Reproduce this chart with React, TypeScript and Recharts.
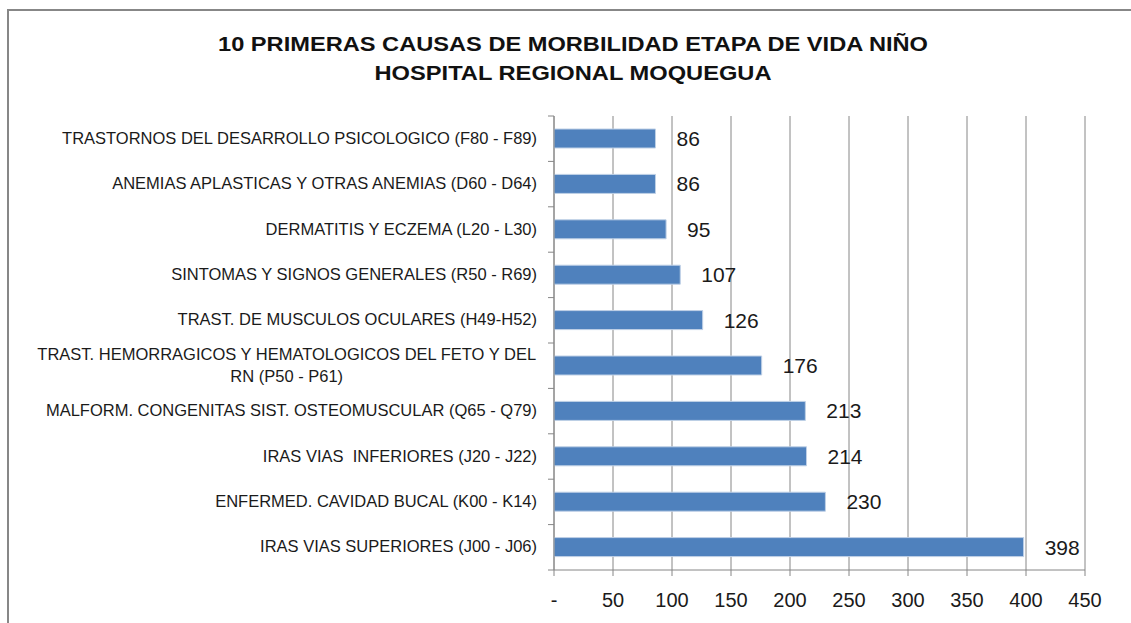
import React from "react";
import { BarChart, Bar, XAxis, YAxis, CartesianGrid, LabelList } from "recharts";

const categories = [
  "TRASTORNOS DEL DESARROLLO PSICOLOGICO (F80 - F89)",
  "ANEMIAS APLASTICAS Y OTRAS ANEMIAS (D60 - D64)",
  "DERMATITIS Y ECZEMA (L20 - L30)",
  "SINTOMAS Y SIGNOS GENERALES (R50 - R69)",
  "TRAST. DE MUSCULOS OCULARES (H49-H52)",
  "TRAST. HEMORRAGICOS Y HEMATOLOGICOS DEL FETO Y DEL RN (P50 - P61)",
  "MALFORM. CONGENITAS SIST. OSTEOMUSCULAR (Q65 - Q79)",
  "IRAS VIAS  INFERIORES (J20 - J22)",
  "ENFERMED. CAVIDAD BUCAL (K00 - K14)",
  "IRAS VIAS SUPERIORES (J00 - J06)",
];
const values = [86, 86, 95, 107, 126, 176, 213, 214, 230, 398];
const xTicks = [0, 50, 100, 150, 200, 250, 300, 350, 400, 450];
const titleLines = [
  "10 PRIMERAS CAUSAS DE MORBILIDAD ETAPA DE VIDA NIÑO",
  "HOSPITAL REGIONAL MOQUEGUA",
];

const data = categories.map((name, i) => ({ name, value: values[i] }));

const FONT = "'Liberation Sans', Arial, sans-serif";
const AXIS = "#868686";

function wrapLabel(text: string): string[] {
  if (text.length <= 55) return [text];
  const words = text.split(" ");
  const lines: string[] = [];
  let cur = "";
  for (const w of words) {
    const next = cur ? cur + " " + w : w;
    if (next.length > 50 && cur) {
      lines.push(cur);
      cur = w;
    } else cur = next;
  }
  if (cur) lines.push(cur);
  return lines;
}

let measureCtx: CanvasRenderingContext2D | null = null;
function measure(text: string, font: string): number {
  if (!measureCtx) {
    const c = document.createElement("canvas");
    measureCtx = c.getContext("2d");
  }
  if (!measureCtx) return text.length * 9;
  measureCtx.font = font;
  return measureCtx.measureText(text).width;
}

const YTick = (props: any) => {
  const { x, y, payload, index, visibleTicksCount } = props;
  const half = payload && payload.offset ? payload.offset : 22.7;
  const axisX = x + 8;
  const lines = wrapLabel(String(payload.value));
  const right = axisX - 17;
  const fs = 16.5;
  const lh = 22;
  const startY = y - ((lines.length - 1) * lh) / 2 + 5;
  let anchor: "end" | "middle" = "end";
  let tx = right;
  if (lines.length > 1) {
    const w = measure(lines[0], `${fs}px ${FONT}`);
    anchor = "middle";
    tx = right - w / 2;
  }
  return (
    <g>
      <line x1={axisX - 6} x2={axisX} y1={y - half} y2={y - half} stroke={AXIS} />
      {index === visibleTicksCount - 1 && (
        <line x1={axisX - 6} x2={axisX} y1={y + half} y2={y + half} stroke={AXIS} />
      )}
      {lines.map((l, i) => (
        <text
          key={i}
          x={tx}
          y={startY + i * lh}
          textAnchor={anchor}
          fontSize={fs}
          fontFamily={FONT}
          fill="#1a1a1a"
          style={{ whiteSpace: "pre" }}
        >
          {l}
        </text>
      ))}
    </g>
  );
};

const XTick = (props: any) => {
  const { x, y, payload } = props;
  const label = payload.value === 0 ? "-" : String(payload.value);
  return (
    <text x={x} y={y + 29} textAnchor="middle" fontSize={20} fontFamily={FONT} fill="#1a1a1a">
      {label}
    </text>
  );
};

export default function App() {
  return (
    <div style={{ position: "fixed", left: 0, top: 0, width: 1131, height: 623, background: "#fff" }}>
      <div
        style={{
          position: "absolute",
          left: 7,
          top: 9,
          width: 1131,
          height: 623,
          borderTop: "2px solid #878787",
          borderLeft: "2px solid #878787",
          pointerEvents: "none",
        }}
      />
      <svg
        width={1131}
        height={100}
        style={{ position: "absolute", left: 0, top: 0 }}
      >
        <text
          x={573}
          y={51}
          textAnchor="middle"
          fontFamily={FONT}
          fontWeight="bold"
          fontSize={21}
          fill="#111"
          textLength={710}
          lengthAdjust="spacingAndGlyphs"
        >
          {titleLines[0]}
        </text>
        <text
          x={573}
          y={80}
          textAnchor="middle"
          fontFamily={FONT}
          fontWeight="bold"
          fontSize={21}
          fill="#111"
          textLength={397}
          lengthAdjust="spacingAndGlyphs"
        >
          {titleLines[1]}
        </text>
      </svg>
      <div style={{ position: "absolute", left: 0, top: 0 }}>
        <BarChart
          width={1131}
          height={623}
          data={data}
          layout="vertical"
          margin={{ top: 116, right: 46, bottom: 0, left: 0 }}
        >
          <CartesianGrid horizontal={false} vertical={true} stroke={AXIS} strokeWidth={1} />
          <XAxis
            type="number"
            domain={[0, 450]}
            ticks={xTicks}
            interval={0}
            height={53}
            axisLine={{ stroke: AXIS }}
            tickLine={{ stroke: AXIS }}
            tickSize={6}
            tick={<XTick />}
          />
          <YAxis
            type="category"
            dataKey="name"
            width={554}
            interval={0}
            axisLine={{ stroke: AXIS }}
            tickLine={false}
            tickSize={6}
            tick={<YTick />}
          />
          <Bar dataKey="value" fill="#4F81BD" stroke="#BFD0E6" strokeWidth={1} barSize={19} isAnimationActive={false}>
            <LabelList
              dataKey="value"
              position="right"
              offset={21}
              fontSize={21}
              fontFamily={FONT}
              fill="#1a1a1a"
            />
          </Bar>
        </BarChart>
      </div>
    </div>
  );
}
